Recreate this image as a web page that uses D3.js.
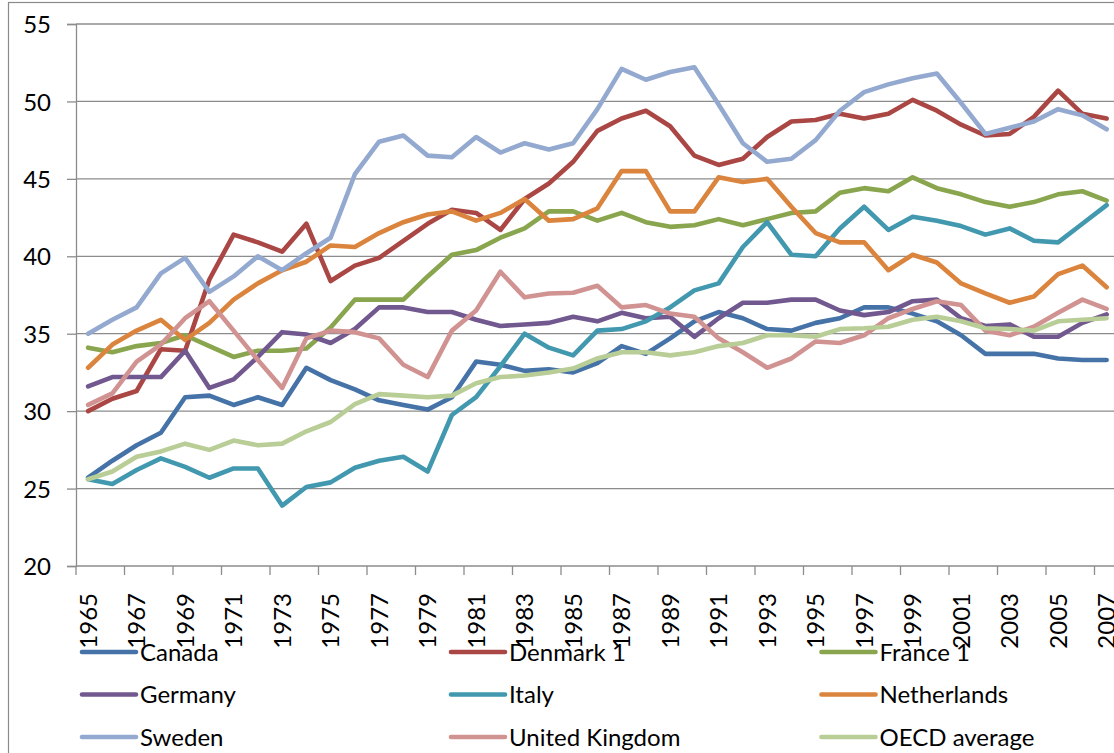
<!DOCTYPE html>
<html>
<head>
<meta charset="utf-8">
<script src="https://cdn.jsdelivr.net/npm/d3@7"></script>
<style>
  html, body { margin: 0; padding: 0; background: #fff; }
  svg { display: block; }
  text { font-family: Lato, "Open Sans", sans-serif; fill: #000; }
</style>
</head>
<body>
<svg id="chart" width="1114" height="753"></svg>
<script>
const years = d3.range(1965, 2008);
const yTicks = [20, 25, 30, 35, 40, 45, 50, 55];
const xTickLabels = years.filter((y, i) => i % 2 === 0);

const seriesNames = ["Canada", "Denmark 1", "France 1", "Germany", "Italy", "Netherlands", "Sweden", "United Kingdom", "OECD average"];
const seriesColors = ["#4572A7", "#AA4643", "#89A54E", "#71588F", "#4198AF", "#DB843D", "#93A9CF", "#D19392", "#B9CD96"];

const canada = [25.7, 26.8, 27.8, 28.6, 30.9, 31.0, 30.4, 30.9, 30.4, 32.8, 32.0, 31.4, 30.7, 30.4, 30.1, 30.9, 33.2, 33.0, 32.6, 32.7, 32.5, 33.1, 34.2, 33.7, 34.7, 35.8, 36.4, 36.0, 35.3, 35.2, 35.7, 36.0, 36.7, 36.7, 36.3, 35.8, 34.9, 33.7, 33.7, 33.7, 33.4, 33.3, 33.3];
const denmark = [30.0, 30.8, 31.3, 34.0, 33.9, 38.5, 41.4, 40.9, 40.3, 42.1, 38.4, 39.4, 39.9, 41.0, 42.1, 43.0, 42.8, 41.7, 43.7, 44.7, 46.1, 48.1, 48.9, 49.4, 48.4, 46.5, 45.9, 46.3, 47.7, 48.7, 48.8, 49.2, 48.9, 49.2, 50.1, 49.4, 48.5, 47.8, 47.9, 49.0, 50.7, 49.2, 48.9];
const france = [34.1, 33.8, 34.2, 34.4, 34.9, 34.2, 33.5, 33.9, 33.9, 34.05, 35.4, 37.2, 37.2, 37.2, 38.7, 40.1, 40.4, 41.2, 41.8, 42.9, 42.9, 42.3, 42.8, 42.2, 41.9, 42.0, 42.4, 42.0, 42.4, 42.8, 42.9, 44.1, 44.4, 44.2, 45.1, 44.4, 44.0, 43.5, 43.2, 43.5, 44.0, 44.2, 43.6];
const germany = [31.6, 32.2, 32.2, 32.2, 33.9, 31.5, 32.05, 33.5, 35.1, 34.95, 34.4, 35.3, 36.7, 36.7, 36.4, 36.4, 35.9, 35.5, 35.6, 35.7, 36.1, 35.8, 36.35, 36.0, 36.1, 34.8, 36.0, 37.0, 37.0, 37.2, 37.2, 36.5, 36.2, 36.4, 37.1, 37.2, 36.0, 35.5, 35.6, 34.8, 34.8, 35.7, 36.25];
const italy = [25.6, 25.3, 26.2, 26.95, 26.4, 25.7, 26.3, 26.3, 23.9, 25.1, 25.4, 26.35, 26.8, 27.05, 26.1, 29.75, 30.9, 32.9, 35.0, 34.1, 33.6, 35.2, 35.3, 35.8, 36.7, 37.8, 38.25, 40.6, 42.2, 40.1, 40.0, 41.8, 43.2, 41.7, 42.55, 42.3, 41.95, 41.4, 41.8, 41.0, 40.9, 42.1, 43.3];
const netherlands = [32.8, 34.3, 35.2, 35.9, 34.6, 35.7, 37.2, 38.25, 39.1, 39.65, 40.7, 40.6, 41.5, 42.2, 42.7, 42.9, 42.3, 42.8, 43.7, 42.3, 42.4, 43.1, 45.5, 45.5, 42.9, 42.9, 45.1, 44.8, 45.0, 43.2, 41.5, 40.9, 40.9, 39.1, 40.1, 39.6, 38.25, 37.6, 37.0, 37.4, 38.85, 39.4, 38.0];
const sweden = [35.0, 35.9, 36.7, 38.9, 39.9, 37.7, 38.7, 40.0, 39.1, 40.2, 41.2, 45.3, 47.4, 47.8, 46.5, 46.4, 47.7, 46.7, 47.3, 46.9, 47.3, 49.5, 52.1, 51.4, 51.9, 52.2, 49.8, 47.3, 46.1, 46.3, 47.5, 49.4, 50.6, 51.1, 51.5, 51.8, 49.9, 47.9, 48.3, 48.7, 49.5, 49.1, 48.2];
const uk = [30.4, 31.15, 33.2, 34.3, 36.0, 37.1, 35.2, 33.3, 31.5, 34.7, 35.2, 35.1, 34.7, 33.0, 32.2, 35.2, 36.5, 39.0, 37.35, 37.6, 37.65, 38.1, 36.7, 36.85, 36.3, 36.1, 34.7, 33.8, 32.8, 33.4, 34.5, 34.4, 34.9, 36.0, 36.6, 37.1, 36.85, 35.2, 34.9, 35.45, 36.35, 37.2, 36.6];
const oecd = [25.6, 26.1, 27.05, 27.4, 27.9, 27.5, 28.1, 27.8, 27.9, 28.7, 29.3, 30.45, 31.1, 31.0, 30.9, 31.0, 31.8, 32.2, 32.3, 32.5, 32.75, 33.4, 33.8, 33.8, 33.6, 33.8, 34.2, 34.4, 34.9, 34.9, 34.8, 35.3, 35.35, 35.45, 35.9, 36.1, 35.8, 35.35, 35.3, 35.2, 35.8, 35.9, 36.0];

const seriesValues = [canada, denmark, france, germany, italy, netherlands, sweden, uk, oecd];

const svg = d3.select("#chart");
const W = 1114, H = 753;
const plotLeft = 76, plotTop = 24, plotBottom = 566;
const bandW = 24.25;
const plotRight = plotLeft + bandW * years.length;

// outer chart border
svg.append("rect")
  .attr("x", 8.5).attr("y", 2.5)
  .attr("width", W + 20).attr("height", H + 20)
  .attr("fill", "none").attr("stroke", "#8a8a8a").attr("stroke-width", 1.2);

const x = d3.scaleBand().domain(years).range([plotLeft, plotRight]).padding(0);
const y = d3.scaleLinear().domain([20, 55]).range([plotBottom, plotTop]);

// gridlines
svg.append("g").selectAll("line").data(yTicks.filter(t => t > 20)).join("line")
  .attr("x1", plotLeft).attr("x2", plotRight)
  .attr("y1", d => y(d)).attr("y2", d => y(d))
  .attr("stroke", "#8c8c8c").attr("stroke-width", 1.3);

// y axis
const yAxis = d3.axisLeft(y).tickValues(yTicks).tickSize(9).tickPadding(16).tickFormat(d3.format("d"));
const gy = svg.append("g").attr("transform", `translate(${plotLeft},0)`).call(yAxis);
gy.select(".domain").attr("stroke", "#8c8c8c").attr("stroke-width", 1.3);
gy.selectAll(".tick line").attr("stroke", "#8c8c8c").attr("stroke-width", 1.3);
gy.selectAll(".tick text").style("font-size", "24px").attr("fill", "#000").attr("dy", "0.36em");

// x axis: ticks at every 2nd category boundary
const xBound = d3.scaleLinear().domain([0, years.length]).range([plotLeft, plotRight]);
const boundaryIdx = d3.range(0, years.length + 1, 2);
const gx = svg.append("g");
gx.append("line").attr("x1", plotLeft).attr("x2", plotRight)
  .attr("y1", plotBottom).attr("y2", plotBottom)
  .attr("stroke", "#8c8c8c").attr("stroke-width", 1.3);
gx.selectAll("line.tk").data(boundaryIdx).join("line").attr("class", "tk")
  .attr("x1", d => xBound(d)).attr("x2", d => xBound(d))
  .attr("y1", plotBottom).attr("y2", plotBottom + 9)
  .attr("stroke", "#8c8c8c").attr("stroke-width", 1.3);
gx.selectAll("text").data(xTickLabels).join("text")
  .attr("transform", d => `translate(${x(d) + x.bandwidth() / 2},${plotBottom + 27}) rotate(-90)`)
  .attr("text-anchor", "end")
  .attr("dy", "0.36em")
  .style("font-size", "24px")
  .text(d => d);

// lines
const line = d3.line()
  .x((d, i) => x(years[i]) + x.bandwidth() / 2)
  .y(d => y(d));

svg.append("g").selectAll("path").data(seriesValues).join("path")
  .attr("d", d => line(d))
  .attr("fill", "none")
  .attr("stroke", (d, i) => seriesColors[i])
  .attr("stroke-width", 4.6)
  .attr("stroke-linejoin", "round")
  .attr("stroke-linecap", "round");

// legend
const colX = [82, 451, 821.5];
const rowY = [652, 694.5, 737];
const leg = svg.append("g").selectAll("g").data(seriesNames).join("g")
  .attr("transform", (d, i) => `translate(${colX[i % 3]},${rowY[Math.floor(i / 3)]})`);
leg.append("line").attr("x1", 0).attr("x2", 54).attr("y1", 0).attr("y2", 0)
  .attr("stroke", (d, i) => seriesColors[i]).attr("stroke-width", 4.6).attr("stroke-linecap", "round");
leg.append("text").attr("x", 58).attr("y", 0).attr("dy", "0.36em")
  .style("font-size", "24px").text(d => d);
</script>
</body>
</html>
